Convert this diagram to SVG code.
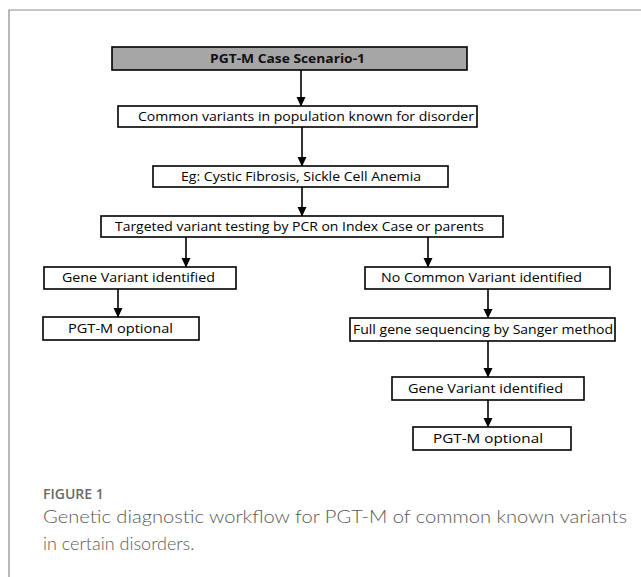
<svg xmlns="http://www.w3.org/2000/svg" width="641" height="577" viewBox="0 0 641 577">
  <defs>
    <marker id="ah" markerWidth="10" markerHeight="10" refX="9" refY="5" orient="auto" markerUnits="userSpaceOnUse">
      <path d="M0,0.5 L9.5,5 L0,9.5 Z" fill="#000"/>
    </marker>
    <style>
      .box { fill: #fff; stroke: #000; stroke-width: 1.6; }
      .title { fill: #a6a6a6; stroke: #000; stroke-width: 1.6; }
      .t { font-family: "Open Sans", "Liberation Sans", sans-serif; font-size: 13px; fill: #000; }
      .tb { font-family: "Open Sans", "Liberation Sans", sans-serif; font-size: 13px; font-weight: bold; fill: #111; }
      .conn line { stroke: #000; stroke-width: 1.6; }
      .cap { font-family: "Lato", "Open Sans", "Liberation Sans", sans-serif; font-weight: 300; font-size: 18px; fill: #5a5a5a; }
      .fig { font-family: "Open Sans", "Liberation Sans", sans-serif; font-weight: 600; font-size: 14px; fill: #6a6a6a; }
    </style>
  </defs>
  <rect x="0" y="0" width="641" height="577" fill="#fff"/>
  <path d="M9,577 L9,10 L641,10" fill="none" stroke="#8c8c8c" stroke-width="1.2"/>

  <g id="connectors" class="conn">
    <line x1="301" y1="70" x2="301" y2="106" marker-end="url(#ah)"/>
    <line x1="302" y1="127" x2="302" y2="166" marker-end="url(#ah)"/>
    <line x1="302" y1="187" x2="302" y2="216" marker-end="url(#ah)"/>
    <line x1="186" y1="237" x2="186" y2="267" marker-end="url(#ah)"/>
    <line x1="428" y1="237" x2="428" y2="267" marker-end="url(#ah)"/>
    <line x1="118" y1="289" x2="118" y2="317" marker-end="url(#ah)"/>
    <line x1="488" y1="289" x2="488" y2="318" marker-end="url(#ah)"/>
    <line x1="488" y1="341" x2="488" y2="377" marker-end="url(#ah)"/>
    <line x1="488" y1="400" x2="488" y2="427" marker-end="url(#ah)"/>
  </g>

  <g id="n-title">
    <rect class="title" x="112" y="47" width="355" height="23"/>
    <text class="tb" x="287.5" y="63" text-anchor="middle" textLength="155" lengthAdjust="spacingAndGlyphs">PGT-M Case Scenario-1</text>
  </g>
  <g id="n-common">
    <rect class="box" x="118" y="106" width="359" height="21"/>
    <text class="t" x="138" y="121" textLength="336" lengthAdjust="spacingAndGlyphs">Common variants in population known for disorder</text>
  </g>
  <g id="n-eg">
    <rect class="box" x="153" y="166" width="295" height="21"/>
    <text class="t" x="181" y="181" textLength="240" lengthAdjust="spacingAndGlyphs">Eg: Cystic Fibrosis, Sickle Cell Anemia</text>
  </g>
  <g id="n-targeted">
    <rect class="box" x="101" y="216" width="402" height="21"/>
    <text class="t" x="115" y="231" textLength="369" lengthAdjust="spacingAndGlyphs">Targeted variant testing by PCR on Index Case or parents</text>
  </g>
  <g id="n-gene-left">
    <rect class="box" x="44" y="267" width="192" height="22"/>
    <text class="t" x="62" y="282" textLength="153" lengthAdjust="spacingAndGlyphs">Gene Variant identified</text>
  </g>
  <g id="n-pgt-left">
    <rect class="box" x="43" y="317" width="156" height="23"/>
    <text class="t" x="68" y="333" textLength="105" lengthAdjust="spacingAndGlyphs">PGT-M optional</text>
  </g>
  <g id="n-nocommon">
    <rect class="box" x="365" y="267" width="245" height="22"/>
    <text class="t" x="381" y="282" textLength="201" lengthAdjust="spacingAndGlyphs">No Common Variant identified</text>
  </g>
  <g id="n-fullgene">
    <rect class="box" x="350" y="318" width="265" height="23"/>
    <text class="t" x="353" y="334" textLength="260" lengthAdjust="spacingAndGlyphs">Full gene sequencing by Sanger method</text>
  </g>
  <g id="n-gene-right">
    <rect class="box" x="392" y="377" width="192" height="23"/>
    <text class="t" x="408" y="393" textLength="155" lengthAdjust="spacingAndGlyphs">Gene Variant identified</text>
  </g>
  <g id="n-pgt-right">
    <rect class="box" x="413" y="427" width="158" height="23"/>
    <text class="t" x="433" y="443" textLength="110" lengthAdjust="spacingAndGlyphs">PGT-M optional</text>
  </g>

  <text class="fig" x="43" y="499">FIGURE 1</text>
  <text class="cap" x="43" y="523" textLength="584" lengthAdjust="spacingAndGlyphs">Genetic diagnostic workflow for PGT-M of common known variants</text>
  <text class="cap" x="43" y="550">in certain disorders.</text>
</svg>
